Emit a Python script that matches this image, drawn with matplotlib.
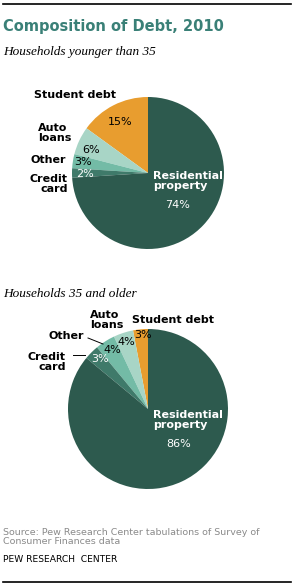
import matplotlib.pyplot as plt
from matplotlib.lines import Line2D

# data (counter-clockwise from top)
categories = ['Student debt', 'Auto loans', 'Other', 'Credit card', 'Residential property']
young = [15, 6, 3, 2, 74]
older = [3, 4, 4, 3, 86]
colors = ['#E89D2F', '#A8D5C6', '#73BBA6', '#3F7A6A', '#2D5A4E']
pct_colors = ['black', 'black', 'black', 'white', 'white']

W, H = 294, 585
fig = plt.figure(figsize=(W / 100, H / 100), dpi=100)


def fx(px):
    return px / W


def fy(py):
    return 1 - py / H


# top / bottom rules
fig.add_artist(Line2D([fx(3), fx(291)], [fy(4), fy(4)], color='black', lw=1.2))
fig.add_artist(Line2D([fx(3), fx(291)], [fy(582), fy(582)], color='black', lw=1.2))

fig.text(fx(3), fy(27), 'Composition of Debt, 2010', fontsize=10.5, fontweight='bold',
         color='#3A8077', va='center', ha='left')
fig.text(fx(3), fy(52), 'Households younger than 35', fontsize=9.5, style='italic',
         family='Liberation Serif', va='center', ha='left')
fig.text(fx(3), fy(294), 'Households 35 and older', fontsize=9.5, style='italic',
         family='Liberation Serif', va='center', ha='left')


def make_pie(cx, cy, r, values, pct_pos, labels):
    ax = fig.add_axes([fx(cx - r), fy(cy + r), 2 * r / W, 2 * r / H])
    ax.pie(values, colors=colors, startangle=90, counterclock=True, radius=1,
           wedgeprops=dict(linewidth=0))
    ax.set_xlim(-1, 1)
    ax.set_ylim(-1, 1)
    ax.axis('off')
    for v, c, (px, py) in zip(values, pct_colors, pct_pos):
        fig.text(fx(px), fy(py), f'{v}%', fontsize=8, color=c, ha='center', va='center')
    for txt, px, py, ha in labels:
        fig.text(fx(px), fy(py), txt, fontsize=8, fontweight='bold', ha=ha, va='center',
                 linespacing=1.05)
    return ax


make_pie(148, 173, 76, young,
         [(120, 122), (91, 150), (83, 162), (85, 174), (178, 205)],
         [('Student debt', 75, 95, 'center'),
          ('Auto\nloans', 38, 133, 'left'),
          ('Other', 66, 160, 'right'),
          ('Credit\ncard', 68, 184, 'right')])
fig.text(fx(153), fy(181), 'Residential\nproperty', fontsize=8, fontweight='bold',
         color='white', ha='left', va='center', linespacing=1.05)

make_pie(148, 409, 80, older,
         [(143, 335), (126, 342), (112, 350), (100, 359), (179, 444)],
         [('Student debt', 173, 320, 'center'),
          ('Auto\nloans', 90, 320, 'left'),
          ('Other', 84, 336, 'right'),
          ('Credit\ncard', 66, 362, 'right')])
fig.text(fx(153), fy(420), 'Residential\nproperty', fontsize=8, fontweight='bold',
         color='white', ha='left', va='center', linespacing=1.05)

# leader lines
fig.add_artist(Line2D([fx(88), fx(103)], [fy(338), fy(344)], color='black', lw=0.7))
fig.add_artist(Line2D([fx(73), fx(85)], [fy(355), fy(355)], color='black', lw=0.7))

fig.text(fx(3), fy(537), 'Source: Pew Research Center tabulations of Survey of\nConsumer Finances data',
         fontsize=6.8, color='#8A8A8A', ha='left', va='center', linespacing=1.1)
fig.text(fx(3), fy(560), 'PEW RESEARCH  CENTER', fontsize=6.6, color='black',
         ha='left', va='center')

fig.savefig('out.png', dpi=100)
